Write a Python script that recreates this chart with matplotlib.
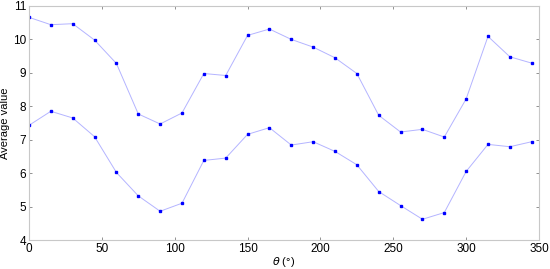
import numpy as np
import matplotlib
matplotlib.use("Agg")
import matplotlib.pyplot as plt

plt.rcParams['font.family'] = ['Liberation Sans', 'DejaVu Sans']

# angles in degrees, one sample every 15 degrees
theta = np.arange(0, 360, 15)

upper = [10.66, 10.44, 10.47, 9.98, 9.28, 7.77, 7.47, 7.80, 8.98, 8.92, 10.12, 10.31,
         10.00, 9.77, 9.45, 8.98, 7.73, 7.23, 7.31, 7.08, 8.22, 10.09, 9.48, 9.29]
lower = [7.43, 7.85, 7.65, 7.09, 6.02, 5.32, 4.86, 5.10, 6.38, 6.45, 7.16, 7.36,
         6.84, 6.94, 6.65, 6.25, 5.45, 5.03, 4.62, 4.82, 6.05, 6.86, 6.79, 6.94]

xticks = [0, 50, 100, 150, 200, 250, 300, 350]
yticks = [4, 5, 6, 7, 8, 9, 10, 11]

fig = plt.figure(figsize=(5.5, 2.69), dpi=100)
ax = fig.add_axes([0.0527, 0.1078, 0.9273, 0.87])

for series in (upper, lower):
    ax.plot(theta, series, color='#b4b4ff', lw=0.7, zorder=1)
    ax.plot(theta, series, ls='none', marker='s', ms=1.8, color='#0000ff',
            mec='#0000ff', zorder=2)

ax.set_xlim(0, 350)
ax.set_ylim(4, 11)
ax.set_xticks(xticks)
ax.set_yticks(yticks)
ax.tick_params(direction='in', length=2.5, width=0.6, color='#808080',
               labelsize=8.5, pad=2, top=True, right=True)
for s in ax.spines.values():
    s.set_color('#c8c8c8')
    s.set_linewidth(0.8)

ax.set_xlabel(r'$\theta$ (°)', fontsize=8, labelpad=0)
ax.set_ylabel('Average value', fontsize=8, labelpad=2)

fig.savefig('out.png', dpi=100)
